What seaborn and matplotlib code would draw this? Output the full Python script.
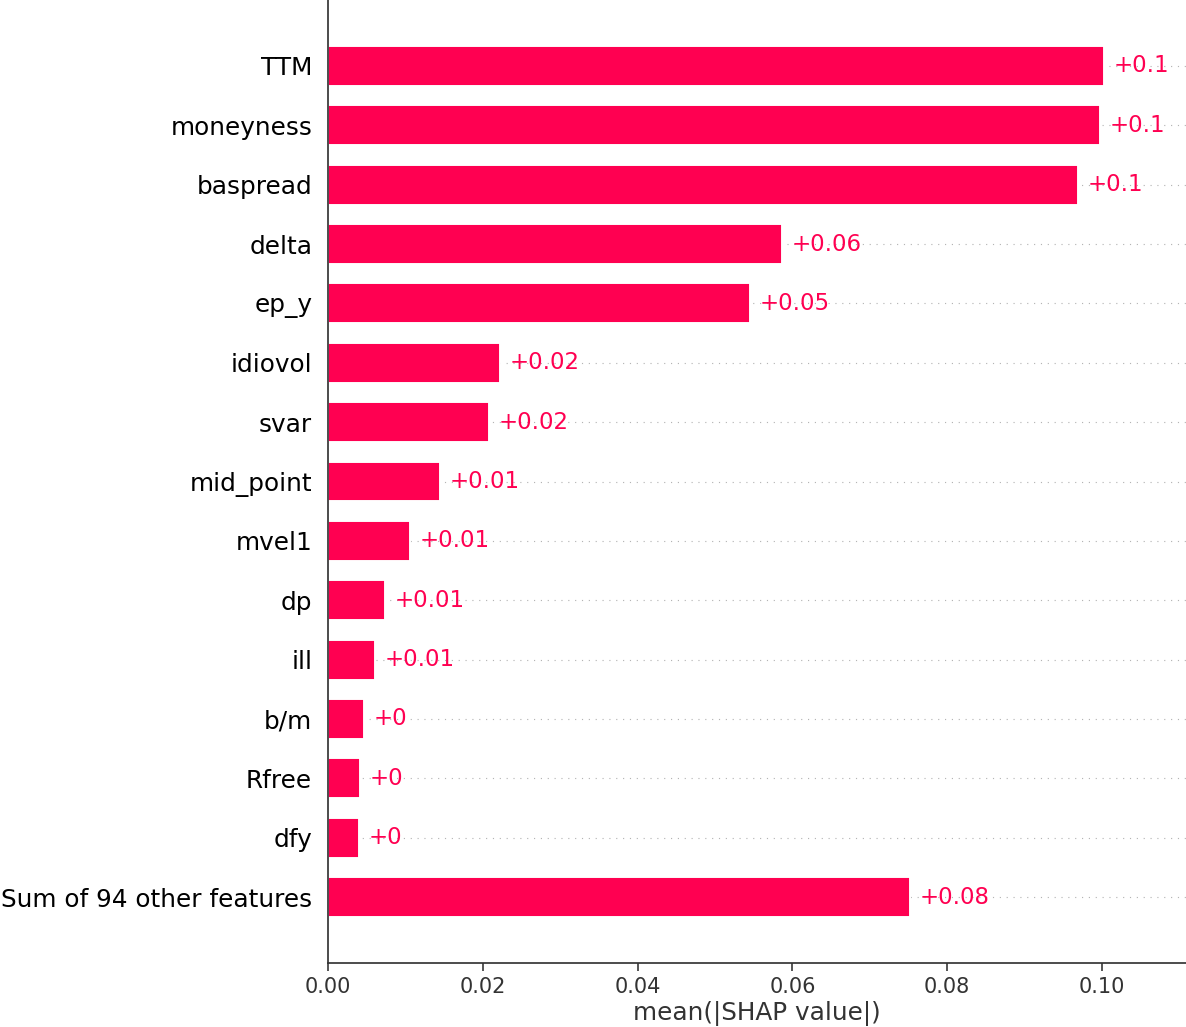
import numpy as np
import pandas as pd
import matplotlib
matplotlib.use("Agg")
import matplotlib.pyplot as plt
import seaborn as sns

# Mean absolute SHAP value per feature
features = ["TTM", "moneyness", "baspread", "delta", "ep_y", "idiovol", "svar",
            "mid_point", "mvel1", "dp", "ill", "b/m", "Rfree", "dfy",
            "Sum of 94 other features"]
mean_abs_shap = [0.1003, 0.0997, 0.0969, 0.0587, 0.0545, 0.0222, 0.0208,
                 0.0145, 0.0106, 0.0074, 0.0061, 0.0047, 0.0041, 0.0040,
                 0.0752]
xticks = [0.00, 0.02, 0.04, 0.06, 0.08, 0.10]

RED = "#ff0051"


def fmt_value(v):
    s = "%+0.02f" % v
    if "." in s:
        s = s.rstrip("0").rstrip(".")
    return s


df = pd.DataFrame({"feature": features, "value": mean_abs_shap})

sns.set_style("white")
plt.rcParams["font.family"] = ["DejaVu Sans"]

DPI = 137
fig = plt.figure(figsize=(1186 / DPI, 1027 / DPI), dpi=DPI)
ax = fig.add_axes([328 / 1186, 1 - 963 / 1027, 1 - 328 / 1186, 963 / 1027])

n = len(features)
for i in range(n):
    ax.axhline(i, color="#b4b4b4", lw=0.6, dashes=(1, 5), zorder=-1)

sns.barplot(data=df, x="value", y="feature", orient="h", color=RED,
            saturation=1, width=0.67, ax=ax, zorder=2)

for i, v in enumerate(mean_abs_shap):
    ax.annotate(fmt_value(v), xy=(v, i), xytext=(5, 0), textcoords="offset points",
                ha="left", va="center", color=RED, fontsize=12)

ax.set_xlim(0, (1186 - 328) / 7740)
ax.set_ylim(n - 1 + 1.11, -1.11)
ax.set_xticks(xticks)
ax.set_xticklabels([f"{t:.2f}" for t in xticks])
ax.set_ylabel("")
ax.set_xlabel("mean(|SHAP value|)", fontsize=13, color="#333333", labelpad=2)

ax.tick_params(axis="y", length=0, pad=8.3, labelsize=13, labelcolor="#000000")
ax.tick_params(axis="x", length=4, width=0.8, labelsize=11, labelcolor="#333333",
               bottom=True, direction="out")

for side in ["top", "right"]:
    ax.spines[side].set_visible(False)
for side in ["left", "bottom"]:
    ax.spines[side].set_color("#333333")
    ax.spines[side].set_linewidth(0.9)

fig.savefig("out.png", dpi=DPI)
